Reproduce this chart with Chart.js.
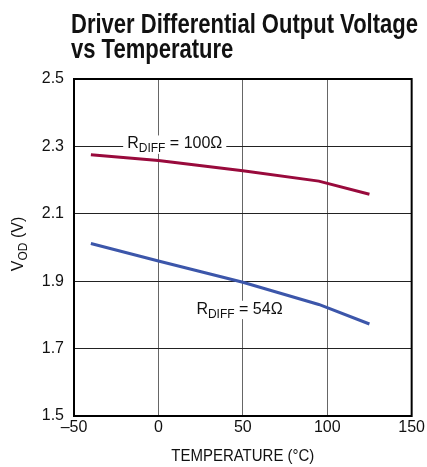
<!DOCTYPE html>
<html>
<head>
<meta charset="utf-8">
<script src="https://cdn.jsdelivr.net/npm/chart.js@4.4.1/dist/chart.umd.min.js"></script>
<style>
  html, body { margin: 0; padding: 0; background: #fff; }
  #wrap { width: 427px; height: 467px; position: relative; }
</style>
</head>
<body>
<div id="wrap"><canvas id="c" width="427" height="467"></canvas></div>
<script>
// temperature (°C) and V_OD (V)
const temps = [-40, 0, 50, 95, 125];
const vod100 = [2.275, 2.258, 2.228, 2.197, 2.158];
const vod54 = [2.012, 1.960, 1.897, 1.831, 1.773];
const xTicks = [-50, 0, 50, 100, 150];
const yTicks = [1.5, 1.7, 1.9, 2.1, 2.3, 2.5];

const FONT = '"Liberation Sans Narrow", "Liberation Sans", Arial, sans-serif';
const RED = "#990a3c";
const BLUE = "#3c56aa";

function pts(xs, ys) { return xs.map((x, i) => ({ x, y: ys[i] })); }

// draws "R" + subscript + rest, with optional white box behind
function subText(ctx, x, y, main, sub, rest, size, box) {
  ctx.save();
  ctx.textBaseline = "alphabetic";
  ctx.textAlign = "left";
  const f1 = size + "px " + FONT, f2 = Math.round(size * 0.78) + "px " + FONT;
  ctx.font = f1; const w1 = ctx.measureText(main).width;
  ctx.font = f2; const w2 = ctx.measureText(sub).width;
  ctx.font = f1; const w3 = ctx.measureText(rest).width;
  if (box) {
    ctx.fillStyle = "#fff";
    ctx.fillRect(x - 4, y - size * 0.8, w1 + w2 + w3 + 8, size * 1.15);
  }
  ctx.fillStyle = "#111";
  ctx.font = f1; ctx.fillText(main, x, y);
  ctx.font = f2; ctx.fillText(sub, x + w1, y + size * 0.25);
  ctx.font = f1; ctx.fillText(rest, x + w1 + w2, y);
  ctx.restore();
}

const decor = {
  id: "decor",
  afterDatasetsDraw(chart) {
    const { ctx, chartArea: a, scales: { x, y } } = chart;
    ctx.save();
    // plot frame
    ctx.strokeStyle = "#000";
    ctx.lineWidth = 2;
    ctx.strokeRect(a.left, a.top, a.right - a.left, a.bottom - a.top);

    // curve labels
    subText(ctx, x.getPixelForValue(-18.5), y.getPixelForValue(2.2945), "R", "DIFF", " = 100Ω", 16, true);
    subText(ctx, x.getPixelForValue(22.5), y.getPixelForValue(1.804), "R", "DIFF", " = 54Ω", 16, true);

    // chart title, two lines, bold condensed
    const titles = [["Driver Differential Output Voltage", 347], ["vs Temperature", 159]];
    ctx.fillStyle = "#111";
    ctx.textBaseline = "alphabetic";
    ctx.textAlign = "left";
    ctx.font = "bold 27px " + FONT;
    const wRef = ctx.measureText(titles[0][0]).width;
    const sx = titles[0][1] / wRef;
    titles.forEach((t, i) => {
      ctx.save();
      ctx.translate(71, 33 + i * 25);
      ctx.scale(sx, 1);
      ctx.fillText(t[0], 0, 0);
      ctx.restore();
    });

    // x axis title, slightly condensed
    ctx.save();
    ctx.font = "16px " + FONT;
    ctx.textAlign = "center";
    ctx.textBaseline = "middle";
    const xt = "TEMPERATURE (°C)";
    const k = Math.min(1, 143 / ctx.measureText(xt).width);
    ctx.translate((a.left + a.right) / 2, 457);
    ctx.scale(k, 1);
    ctx.fillText(xt, 0, 0);
    ctx.restore();

    // y axis title with subscript
    ctx.save();
    ctx.translate(17, 244);
    ctx.rotate(-Math.PI / 2);
    ctx.textBaseline = "alphabetic";
    ctx.textAlign = "left";
    ctx.font = "16px " + FONT;
    const wV = ctx.measureText("V").width;
    ctx.font = "12px " + FONT;
    const wOD = ctx.measureText("OD").width;
    ctx.font = "16px " + FONT;
    const wR = ctx.measureText(" (V)").width;
    const x0 = -(wV + wOD + wR) / 2;
    ctx.fillText("V", x0, 6);
    ctx.font = "12px " + FONT;
    ctx.fillText("OD", x0 + wV, 10);
    ctx.font = "16px " + FONT;
    ctx.fillText(" (V)", x0 + wV + wOD, 6);
    ctx.restore();

    ctx.restore();
  }
};

new Chart(document.getElementById("c"), {
  type: "scatter",
  data: {
    datasets: [
      { data: pts(temps, vod100), borderColor: RED, borderWidth: 3, showLine: true, pointRadius: 0, tension: 0 },
      { data: pts(temps, vod54), borderColor: BLUE, borderWidth: 3, showLine: true, pointRadius: 0, tension: 0 }
    ]
  },
  options: {
    responsive: false,
    animation: false,
    layout: { padding: { left: 0, top: 79, right: 15, bottom: 0 } },
    plugins: { legend: { display: false }, tooltip: { enabled: false } },
    scales: {
      x: {
        type: "linear",
        min: xTicks[0], max: xTicks[xTicks.length - 1],
        afterBuildTicks: s => { s.ticks = xTicks.map(v => ({ value: v })); },
        afterFit: s => { s.height = 51; },
        ticks: {
          color: "#111", padding: 2,
          font: { family: FONT, size: 16 },
          callback: v => String(v).replace("-", "–")
        },
        grid: { color: "#666", lineWidth: 1, drawTicks: false },
        border: { display: false }
      },
      y: {
        min: yTicks[0], max: yTicks[yTicks.length - 1],
        afterBuildTicks: s => { s.ticks = yTicks.map(v => ({ value: v })); },
        afterFit: s => { s.width = 74; },
        ticks: {
          color: "#111", padding: 10,
          font: { family: FONT, size: 16 },
          callback: v => v.toFixed(1)
        },
        grid: { color: "#222", lineWidth: 1, drawTicks: false },
        border: { display: false }
      }
    }
  },
  plugins: [decor]
});
</script>
</body>
</html>
